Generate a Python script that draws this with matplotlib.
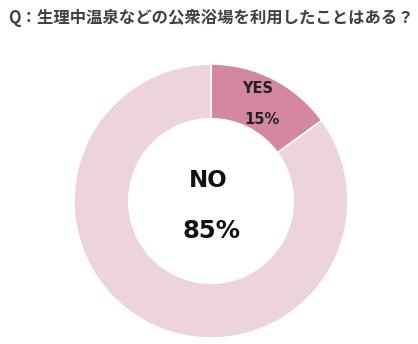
import matplotlib
matplotlib.use("Agg")
import matplotlib.pyplot as plt

title = "Q：生理中温泉などの公衆浴場を利用したことはある？"
labels = ["YES", "NO"]
values = [15, 85]
colors = ["#d4889f", "#ecd3dc"]

plt.rcParams['font.family'] = ['Noto Sans CJK JP', 'DejaVu Sans']

fig = plt.figure(figsize=(4.18, 3.44), dpi=100)
fig.patch.set_facecolor("white")
ax = fig.add_axes([0.177, 0.0174, 0.6555, 0.7965])
ax.pie(values, colors=colors, startangle=90, counterclock=False, radius=1.0,
       wedgeprops=dict(width=0.4, edgecolor="white", linewidth=1.2))
ax.set_xlim(-1, 1)
ax.set_ylim(-1, 1)
ax.set_aspect("auto")
ax.axis("off")

fig.text(8/418, 1 - 18/344, title, fontsize=11.8, fontweight="bold", color="#404040",
         ha="left", va="center", family=['Noto Sans CJK JP', 'DejaVu Sans'])

def px(x, y):
    return ((x - 211) / 137, (201 - y) / 137)

ax.text(*px(257.5, 88.5), labels[0], ha="center", va="center", fontsize=10.5, fontweight="bold",
        color="#222222", family="DejaVu Sans")
ax.text(*px(262, 119), f"{values[0]}%", ha="center", va="center", fontsize=10.5, fontweight="bold",
        color="#222222", family="DejaVu Sans")
ax.text(*px(208.5, 180.5), labels[1], ha="center", va="center", fontsize=16.5, fontweight="bold",
        color="#111111", family="DejaVu Sans")
ax.text(*px(211.5, 230.5), f"{values[1]}%", ha="center", va="center", fontsize=17.5, fontweight="bold",
        color="#111111", family="DejaVu Sans")

fig.savefig("out.png", dpi=100)
